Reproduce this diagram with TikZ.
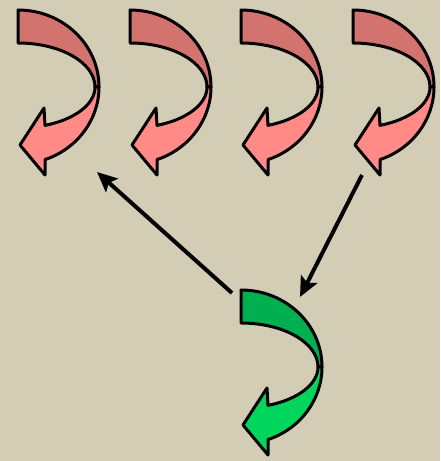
\documentclass[tikz,border=0pt]{standalone}
\usetikzlibrary{arrows.meta}
\definecolor{bgc}{HTML}{D4CDB6}
\definecolor{reddark}{HTML}{D2736E}
\definecolor{redlight}{HTML}{FF8A86}
\definecolor{greendark}{HTML}{00B050}
\definecolor{greenlight}{HTML}{00D65C}
\tikzset{
  outl/.style={draw=black,line width=3pt,line join=round},
  conn/.style={line width=4pt,-{Stealth[length=20pt,width=18pt,inset=4pt]}},
  pics/curvearrow/.style 2 args={code={
    \path[outl,fill=#1] (0,77) arc[start angle=90,end angle=0,x radius=81,y radius=77]
      -- (77,0) arc[start angle=0,end angle=90,x radius=77,y radius=44] -- cycle;
    \path[outl,fill=#2] (81,0) arc[start angle=0,end angle=-70.5,x radius=81,y radius=77]
      -- (27,-88) -- (2,-58) -- (26,-21) -- (27,-38.4)
      arc[start angle=-69.5,end angle=0,x radius=77,y radius=41] -- cycle;
  }}
}
\begin{document}
\begin{tikzpicture}[x=1pt,y=1pt]
\fill[bgc] (0,0) rectangle (440,461);
\useasboundingbox (0,0) rectangle (440,461);
\pic (r1) at (18,374) {curvearrow={reddark}{redlight}};
\pic (r2) at (130,374) {curvearrow={reddark}{redlight}};
\pic (r3) at (241,374) {curvearrow={reddark}{redlight}};
\pic (r4) at (353,374) {curvearrow={reddark}{redlight}};
\pic (g) at (241,94) {curvearrow={greendark}{greenlight}};
\coordinate (gleft) at (232,168);
\coordinate (r1below) at (97,289);
\coordinate (r4below) at (362,286);
\coordinate (gtop) at (300,164);
\draw[conn] (gleft) -- (r1below);
\draw[conn] (r4below) -- (gtop);
\end{tikzpicture}
\end{document}
